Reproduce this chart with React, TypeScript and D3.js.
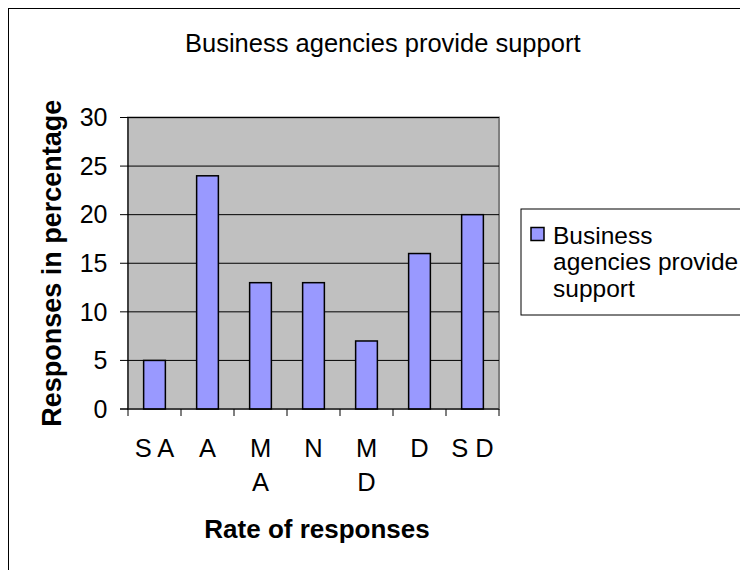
import React from "react";
import * as d3 from "d3";

const categories = ["S A", "A", "M A", "N", "M D", "D", "S D"];
const categoryLines = [["S A"], ["A"], ["M", "A"], ["N"], ["M", "D"], ["D"], ["S D"]];
const values = [5, 24, 13, 13, 7, 16, 20];
const yTicks = [0, 5, 10, 15, 20, 25, 30];
const title = "Business agencies provide support";
const seriesName = ["Business", "agencies provide", "support"];
const xTitle = "Rate of responses";
const yTitle = "Responses in percentage";

const FONT = "'Liberation Sans', Arial, sans-serif";

export default function App() {
  const W = 740;
  const H = 562;
  const left = 128;
  const right = 499;
  const top = 117.5;
  const bottom = 409;

  const x = d3.scaleBand<string>().domain(categories).range([left, right]).paddingInner(0).paddingOuter(0);
  const y = d3.scaleLinear().domain([0, 30]).range([bottom, top]);
  const barW = x.bandwidth() * 0.41;
  const fs = 25.5;

  return (
    <svg width={W} height={H} style={{ display: "block" }} fontFamily={FONT}>
      <g transform="translate(-8,-8)">
        <rect x={8} y={8} width={800} height={600} fill="#ffffff" stroke="#000" strokeWidth={2} />
        {/* plot area */}
        <rect x={left} y={top} width={right - left} height={bottom - top} fill="#C0C0C0" stroke="#808080" strokeWidth={2} />
        {yTicks.filter((t) => t > 0).map((t) => (
          <line key={t} x1={left} x2={right} y1={y(t)} y2={y(t)} stroke="#000" strokeWidth={1} />
        ))}
        {/* bars */}
        {categories.map((c, i) => (
          <rect
            key={c}
            x={(x(c) as number) + (x.bandwidth() - barW) / 2}
            y={y(values[i])}
            width={barW}
            height={bottom - y(values[i])}
            fill="#9999FF"
            stroke="#000"
            strokeWidth={1.5}
          />
        ))}
        {/* axes */}
        <line x1={left} x2={left} y1={top} y2={bottom} stroke="#000" strokeWidth={1} />
        <line x1={left - 8} x2={right} y1={bottom} y2={bottom} stroke="#000" strokeWidth={1} />
        {yTicks.map((t) => (
          <g key={t}>
            <line x1={left - 8} x2={left} y1={y(t)} y2={y(t)} stroke="#000" strokeWidth={1} />
            <text x={107.5} y={y(t)} dy="0.35em" textAnchor="end" fontSize={25} fill="#000">
              {t}
            </text>
          </g>
        ))}
        {categories.map((c) => (
          <line key={"t" + c} x1={x(c) as number} x2={x(c) as number} y1={bottom} y2={bottom + 7} stroke="#000" strokeWidth={1} />
        ))}
        <line x1={right} x2={right} y1={bottom} y2={bottom + 7} stroke="#000" strokeWidth={1} />
        {categories.map((c, i) => (
          <text key={"l" + c} x={(x(c) as number) + x.bandwidth() / 2} y={457} textAnchor="middle" fontSize={fs} fill="#000">
            {categoryLines[i].map((ln, j) => (
              <tspan key={j} x={(x(c) as number) + x.bandwidth() / 2} dy={j === 0 ? 0 : 34}>
                {ln}
              </tspan>
            ))}
          </text>
        ))}
        {/* titles */}
        <text x={185} y={52} textAnchor="start" fontSize={fs} fill="#000">
          {title}
        </text>
        <text x={317} y={538} textAnchor="middle" fontSize={26} fontWeight="bold" fill="#000">
          {xTitle}
        </text>
        <text
          transform={`translate(61,${(top + bottom) / 2}) rotate(-90)`}
          textAnchor="middle"
          fontSize={27}
          fontWeight="bold"
          fill="#000"
        >
          {yTitle}
        </text>
        {/* legend */}
        <rect x={521} y={209} width={260} height={106} fill="#fff" stroke="#000" strokeWidth={1} />
        <rect x={531} y={227.5} width={13} height={13} fill="#9999FF" stroke="#000" strokeWidth={1.5} />
        {seriesName.map((s, i) => (
          <text key={s} x={553} y={243.5 + i * 26.5} fontSize={24.5} fill="#000">
            {s}
          </text>
        ))}
      </g>
    </svg>
  );
}
